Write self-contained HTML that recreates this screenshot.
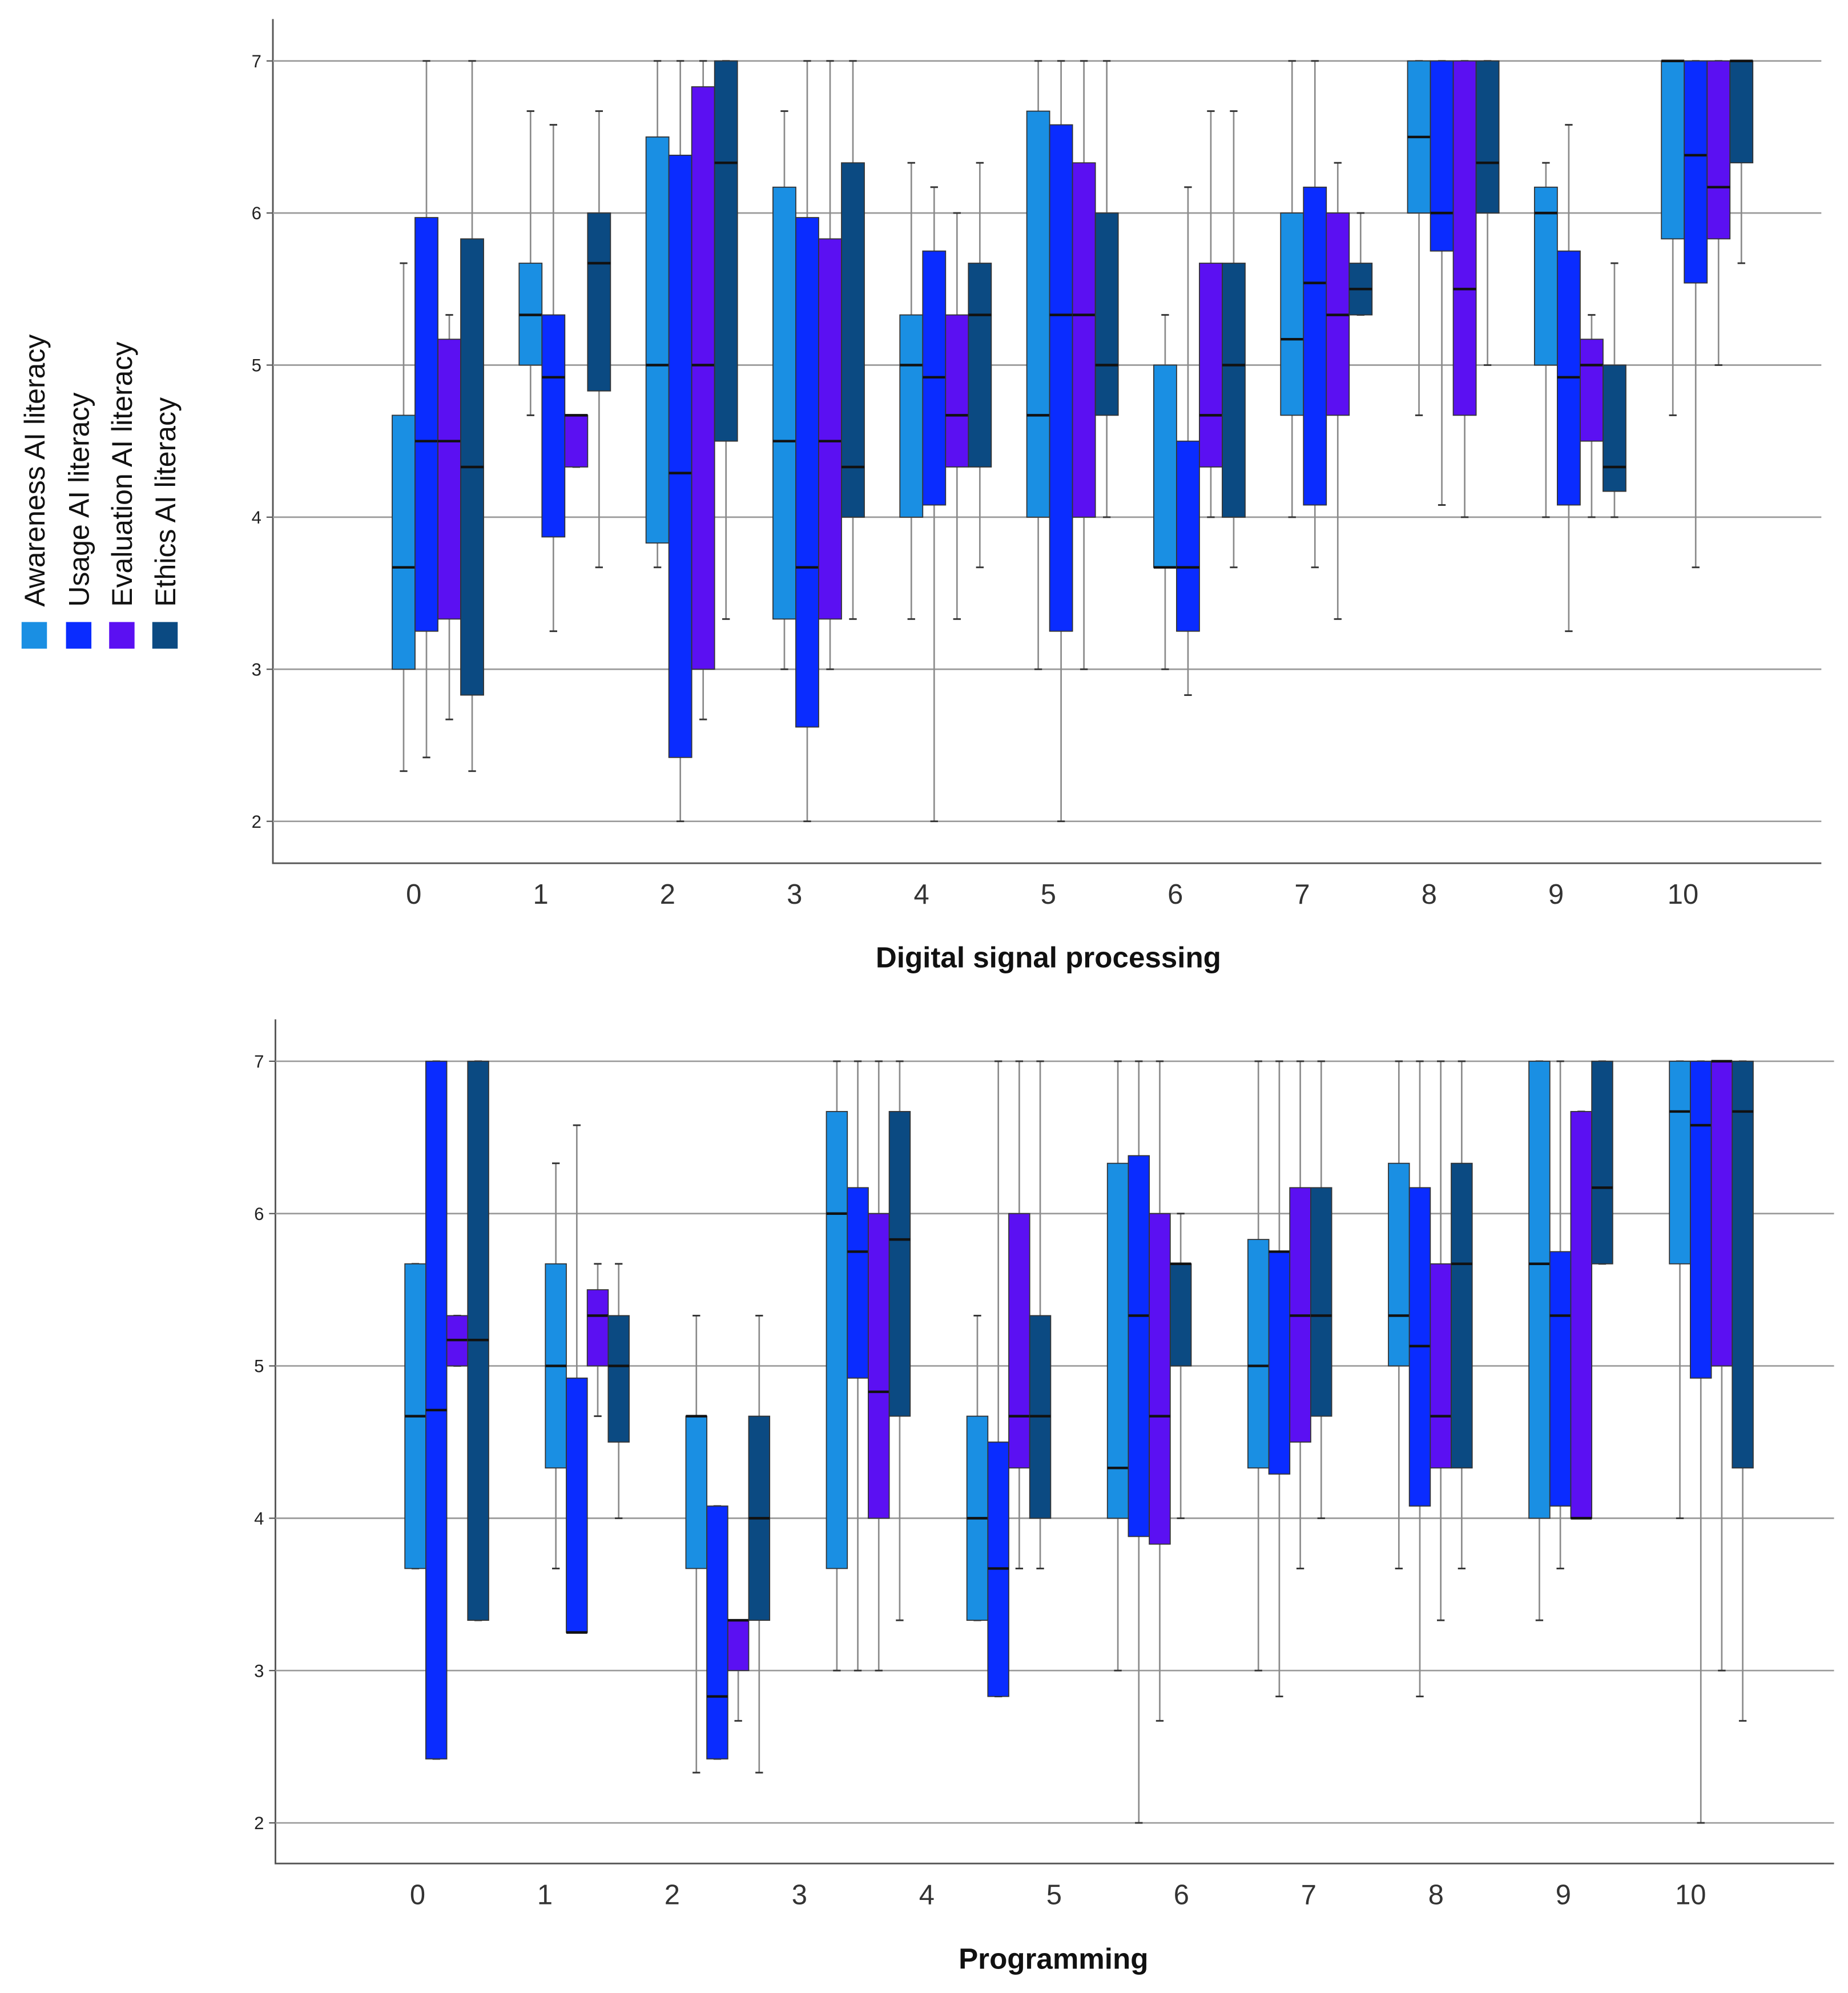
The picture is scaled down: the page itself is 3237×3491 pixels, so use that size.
<!DOCTYPE html>
<html><head><meta charset="utf-8"><style>
html,body{margin:0;padding:0;background:#fff;}
svg{display:block;font-family:"Liberation Sans",sans-serif;}
</style></head><body>
<svg id="chart" width="3237" height="3491" viewBox="0 0 1456 1570" preserveAspectRatio="none" xmlns="http://www.w3.org/2000/svg">
<g id="legend"></g>
<g id="top"></g>
<g id="bot"></g>
</svg>
<script>
// ---- data ----
const seriesNames = ["Awareness AI literacy","Usage AI literacy","Evaluation AI literacy","Ethics AI literacy"];
const seriesColors = ["#1a8fe3","#0a2cff","#5b10f2","#0b4a82"];
const tickLabelsX = ["0","1","2","3","4","5","6","7","8","9","10"];
const tickLabelsY = [2,3,4,5,6,7];
// each entry: [min,q1,median,q3,max] per series
const dspAwareness = [[2.33,3,3.67,4.67,5.67],[4.67,5,5.33,5.67,6.67],[3.67,3.83,5,6.5,7],[3,3.33,4.5,6.17,6.67],[3.33,4,5,5.33,6.33],[3,4,4.67,6.67,7],[3,3.67,3.67,5,5.33],[4,4.67,5.17,6,7],[4.67,6,6.5,7,7],[4,5,6,6.17,6.33],[4.67,5.83,7,7,7]];
const dspUsage = [[2.42,3.25,4.5,5.97,7],[3.25,3.87,4.92,5.33,6.58],[2,2.42,4.29,6.38,7],[2,2.62,3.67,5.97,7],[2,4.08,4.92,5.75,6.17],[2,3.25,5.33,6.58,7],[2.83,3.25,3.67,4.5,6.17],[3.67,4.08,5.54,6.17,7],[4.08,5.75,6,7,7],[3.25,4.08,4.92,5.75,6.58],[3.67,5.54,6.38,7,7]];
const dspEvaluation = [[2.67,3.33,4.5,5.17,5.33],[4.33,4.33,4.67,4.67,4.67],[2.67,3,5,6.83,7],[3,3.33,4.5,5.83,7],[3.33,4.33,4.67,5.33,6],[3,4,5.33,6.33,7],[4,4.33,4.67,5.67,6.67],[3.33,4.67,5.33,6,6.33],[4,4.67,5.5,7,7],[4,4.5,5,5.17,5.33],[5,5.83,6.17,7,7]];
const dspEthics = [[2.33,2.83,4.33,5.83,7],[3.67,4.83,5.67,6,6.67],[3.33,4.5,6.33,7,7],[3.33,4,4.33,6.33,7],[3.67,4.33,5.33,5.67,6.33],[4,4.67,5,6,7],[3.67,4,5,5.67,6.67],[5.33,5.33,5.5,5.67,6],[5,6,6.33,7,7],[4,4.17,4.33,5,5.67],[5.67,6.33,7,7,7]];
const progAwareness = [[3.67,3.67,4.67,5.67,5.67],[3.67,4.33,5,5.67,6.33],[2.33,3.67,4.67,4.67,5.33],[3,3.67,6,6.67,7],[3.33,3.33,4,4.67,5.33],[3,4,4.33,6.33,7],[3,4.33,5,5.83,7],[3.67,5,5.33,6.33,7],[3.33,4,5.67,7,7],[4,5.67,6.67,7,7]];
const progUsage = [[2.42,2.42,4.71,7,7],[3.25,3.25,3.25,4.92,6.58],[2.42,2.42,2.83,4.08,4.08],[3,4.92,5.75,6.17,7],[2.83,2.83,3.67,4.5,7],[2,3.88,5.33,6.38,7],[2.83,4.29,5.75,5.75,7],[2.83,4.08,5.13,6.17,7],[3.67,4.08,5.33,5.75,7],[2,4.92,6.58,7,7]];
const progEvaluation = [[5,5,5.17,5.33,5.33],[4.67,5,5.33,5.5,5.67],[2.67,3,3.33,3.33,3.33],[3,4,4.83,6,7],[3.67,4.33,4.67,6,7],[2.67,3.83,4.67,6,7],[3.67,4.5,5.33,6.17,7],[3.33,4.33,4.67,5.67,7],[4,4,4,6.67,6.67],[3,5,7,7,7]];
const progEthics = [[3.33,3.33,5.17,7,7],[4,4.5,5,5.33,5.67],[2.33,3.33,4,4.67,5.33],[3.33,4.67,5.83,6.67,7],[3.67,4,4.67,5.33,7],[4,5,5.67,5.67,6],[4,4.67,5.33,6.17,7],[3.67,4.33,5.67,6.33,7],[5.67,5.67,6.17,7,7],[2.67,4.33,6.67,7,7]];

const NS="http://www.w3.org/2000/svg";
function mk(tag, attrs, parent){const e=document.createElementNS(NS,tag);for(const k in attrs)e.setAttribute(k,attrs[k]);parent.appendChild(e);return e;}

// legend
const leg=document.getElementById('legend');
const legX=[17,52,86,120];
seriesNames.forEach((n,i)=>{
  const r=mk('rect',{x:legX[i],y:490,width:20,height:21,fill:seriesColors[i]},leg);
  
  
  const t=mk('text',{x:0,y:0,'font-size':22.5,fill:'#111',transform:`translate(${legX[i]+18},478) rotate(-90)`},leg);
  t.textContent=n;
  
  
});

function panel(g, cfg, sets){
  const y=v=>cfg.y7+(7-v)*cfg.unit;
  const ax=mk('path',{d:`M${cfg.left},${cfg.top} V${cfg.bottom} H${cfg.right}`,stroke:'#555','stroke-width':1.3,fill:'none'},g);
  
  
  tickLabelsY.forEach(v=>{
    const l=mk('line',{x1:cfg.left,x2:cfg.right,y1:y(v),y2:y(v),stroke:'#9a9a9a','stroke-width':1.2},g);
    
    
    mk('line',{x1:cfg.left-5,x2:cfg.left,y1:y(v),y2:y(v),stroke:'#555'},g);
    const t=mk('text',{x:cfg.left-9,y:y(v)+5,'font-size':14,'text-anchor':'end',fill:'#222'},g);
    t.textContent=v;
    
    
  });
  tickLabelsX.forEach((c,i)=>{
    const x=cfg.x0+i*cfg.tickStep;
    const t=mk('text',{x:x,y:cfg.bottom+32,'font-size':22,'text-anchor':'middle',fill:'#333'},g);
    t.textContent=c;
    
    
  });
  const xt=mk('text',{x:cfg.titleX,y:cfg.titleY,'font-size':23,'font-weight':'bold','text-anchor':'middle',fill:'#111'},g);
  xt.textContent=cfg.title;
  
  
  sets.forEach((data,s)=>{
    data.forEach((d,i)=>{
      const bx=cfg.g0+i*cfg.gStep+s*cfg.bw;
      const cx=bx+cfg.bw/2;
      const [mn,q1,md,q3,mx]=d;
      const wg=mk('g',{},g);
      
      
      mk('line',{x1:cx,x2:cx,y1:y(mx),y2:y(mn),stroke:'#8a8a8a','stroke-width':1.2},wg);
      mk('line',{x1:cx-3,x2:cx+3,y1:y(mx),y2:y(mx),stroke:'#333','stroke-width':1.3},wg);
      mk('line',{x1:cx-3,x2:cx+3,y1:y(mn),y2:y(mn),stroke:'#333','stroke-width':1.3},wg);
      mk('rect',{x:bx,y:y(q3),width:cfg.bw,height:Math.max(1,y(q1)-y(q3)),fill:seriesColors[s],stroke:'#333','stroke-width':0.8},wg);
      mk('line',{x1:bx,x2:bx+cfg.bw,y1:y(md),y2:y(md),stroke:'#111','stroke-width':2},wg);
    });
  });
}
panel(document.getElementById('top'),{left:215,right:1435,top:15,bottom:680,y7:48,unit:119.8,x0:326,tickStep:100,g0:309,gStep:100,bw:18,title:'Digital signal processing',titleX:826,titleY:762},[dspAwareness,dspUsage,dspEvaluation,dspEthics]);
panel(document.getElementById('bot'),{left:217,right:1445,top:803,bottom:1468,y7:836,unit:120,x0:329,tickStep:100.3,g0:319,gStep:110.7,bw:16.5,title:'Programming',titleX:830,titleY:1551},[progAwareness,progUsage,progEvaluation,progEthics]);
</script>
</body></html>
